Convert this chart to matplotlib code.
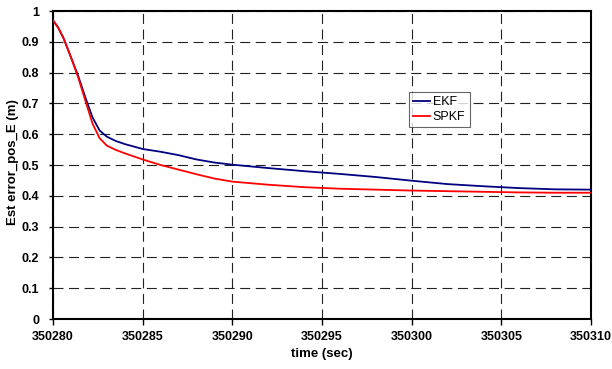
import matplotlib
matplotlib.use("Agg")
import matplotlib.pyplot as plt
from matplotlib.ticker import FixedLocator

plt.rcParams['font.family'] = ['Liberation Sans', 'DejaVu Sans']

time_sec = [350280, 350280.3, 350280.6, 350281.0, 350281.4, 350281.8, 350282.2,
            350282.6, 350283.0, 350283.5, 350284, 350285, 350286, 350287, 350288,
            350289, 350290, 350292, 350294, 350296, 350298, 350300, 350302,
            350304, 350306, 350308, 350310]
ekf = [0.97, 0.945, 0.91, 0.85, 0.79, 0.72, 0.655, 0.612, 0.592, 0.578, 0.568,
       0.552, 0.543, 0.532, 0.518, 0.508, 0.501, 0.49, 0.48, 0.471, 0.461,
       0.449, 0.438, 0.431, 0.425, 0.421, 0.420]
spkf = [0.97, 0.945, 0.91, 0.85, 0.785, 0.71, 0.635, 0.587, 0.563, 0.549, 0.538,
        0.518, 0.50, 0.485, 0.47, 0.456, 0.446, 0.436, 0.428, 0.423, 0.42,
        0.417, 0.415, 0.413, 0.411, 0.41, 0.41]

xticks = [350280, 350285, 350290, 350295, 350300, 350305, 350310]
yticks = [0, 0.1, 0.2, 0.3, 0.4, 0.5, 0.6, 0.7, 0.8, 0.9, 1]
ytick_labels = ['0', '0.1', '0.2', '0.3', '0.4', '0.5', '0.6', '0.7', '0.8', '0.9', '1']

fig = plt.figure(figsize=(6.12, 3.69), dpi=100)
ax = fig.add_axes([53/612, 1-319/369, (591-53)/612, (319-11)/369])

ax.plot(time_sec, ekf, color='#000080', lw=1.3, label='EKF', zorder=3)
ax.plot(time_sec, spkf, color='#ff0000', lw=1.3, label='SPKF', zorder=3)

ax.set_xlim(350280, 350310)
ax.set_ylim(0, 1)
ax.xaxis.set_major_locator(FixedLocator(xticks))
ax.set_xticklabels([str(x) for x in xticks], fontsize=9, fontweight='bold')
ax.yaxis.set_major_locator(FixedLocator(yticks))
ax.set_yticklabels(ytick_labels, fontsize=9, fontweight='bold')
ax.tick_params(axis='x', direction='out', length=4, width=1, pad=5)
ax.tick_params(axis='y', direction='out', length=3, width=1, pad=7)

ax.grid(True, color='#222222', linestyle=(0, (9, 5)), linewidth=0.8)
ax.set_axisbelow(True)
for s in ax.spines.values():
    s.set_linewidth(1.5)
    s.set_color('black')

ax.set_xlabel('time (sec)', fontsize=9.5, fontweight='bold', labelpad=3)
ax.set_ylabel('Est error_pos_E (m)', fontsize=9.5, fontweight='bold')
ax.yaxis.set_label_coords(-0.063, 0.51)

leg = ax.legend(loc='upper left', bbox_to_anchor=((409-53)/538, 1-(92-11)/308),
                fontsize=9, frameon=True, fancybox=False, handlelength=1.35,
                handletextpad=0.2, borderpad=0.35, labelspacing=0.2,
                borderaxespad=0)
leg.get_frame().set_edgecolor('#404040')
leg.get_frame().set_linewidth(0.8)

fig.savefig('out.png', dpi=100)
